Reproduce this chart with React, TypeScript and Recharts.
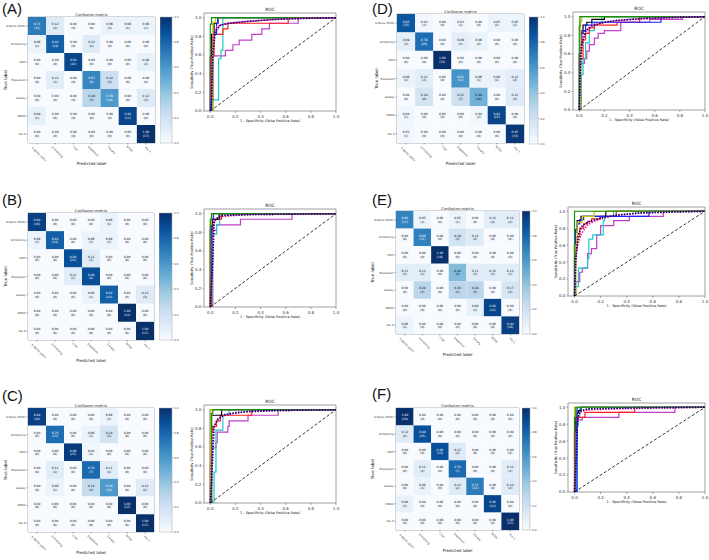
import React from 'react';
import { ScatterChart, Scatter, XAxis, YAxis, LineChart, Line, BarChart, Bar, ReferenceArea } from 'recharts';

const FONT = 'DejaVu Sans, sans-serif';

// ---------- categories / ticks ----------
const classLabels = ['A-Spine (EVD)', 'Armstrong', 'CDH', 'Expedium', 'Galaxy', 'NOVA', 'Xia 3'];
const cellTicks = [0, 1, 2, 3, 4, 5, 6];
const rocTicks = [0, 0.2, 0.4, 0.6, 0.8, 1.0];
const cbTicks = [0, 0.2, 0.4, 0.6, 0.8, 1.0];

// ---------- confusion matrices (normalized values / counts) ----------
const cmA_values = [
  [0.71, 0.12, 0.0, 0.0, 0.06, 0.06, 0.06],
  [0.06, 0.82, 0.0, 0.12, 0.0, 0.0, 0.0],
  [0.0, 0.0, 0.92, 0.0, 0.0, 0.0, 0.08],
  [0.0, 0.11, 0.0, 0.67, 0.22, 0.0, 0.0],
  [0.0, 0.0, 0.0, 0.29, 0.59, 0.0, 0.12],
  [0.08, 0.0, 0.0, 0.0, 0.0, 0.92, 0.0],
  [0.0, 0.0, 0.0, 0.0, 0.0, 0.0, 1.0],
];
const cmA_counts = [
  [12, 2, 0, 0, 1, 1, 1],
  [1, 14, 0, 2, 0, 0, 0],
  [0, 0, 22, 0, 0, 0, 2],
  [0, 1, 0, 6, 2, 0, 0],
  [0, 0, 0, 5, 10, 0, 2],
  [1, 0, 0, 0, 0, 11, 0],
  [0, 0, 0, 0, 0, 0, 17],
];
const cmB_values = [
  [0.94, 0.0, 0.0, 0.0, 0.06, 0.0, 0.0],
  [0.06, 0.82, 0.0, 0.06, 0.06, 0.0, 0.0],
  [0.0, 0.0, 0.88, 0.12, 0.0, 0.0, 0.0],
  [0.0, 0.0, 0.11, 0.89, 0.0, 0.0, 0.0],
  [0.0, 0.0, 0.0, 0.06, 0.82, 0.0, 0.12],
  [0.0, 0.0, 0.0, 0.0, 0.0, 1.0, 0.0],
  [0.0, 0.0, 0.0, 0.0, 0.0, 0.0, 1.0],
];
const cmB_counts = [
  [16, 0, 0, 0, 1, 0, 0],
  [1, 14, 0, 1, 1, 0, 0],
  [0, 0, 21, 3, 0, 0, 0],
  [0, 0, 1, 8, 0, 0, 0],
  [0, 0, 0, 1, 14, 0, 2],
  [0, 0, 0, 0, 0, 12, 0],
  [0, 0, 0, 0, 0, 0, 17],
];
const cmC_values = [
  [0.94, 0.0, 0.0, 0.0, 0.06, 0.0, 0.0],
  [0.0, 0.76, 0.0, 0.06, 0.18, 0.0, 0.0],
  [0.0, 0.0, 0.96, 0.04, 0.0, 0.0, 0.0],
  [0.0, 0.11, 0.0, 0.78, 0.11, 0.0, 0.0],
  [0.0, 0.06, 0.0, 0.24, 0.59, 0.0, 0.12],
  [0.0, 0.0, 0.0, 0.0, 0.0, 1.0, 0.0],
  [0.0, 0.0, 0.0, 0.0, 0.0, 0.0, 1.0],
];
const cmC_counts = [
  [16, 0, 0, 0, 1, 0, 0],
  [0, 13, 0, 1, 3, 0, 0],
  [0, 0, 23, 1, 0, 0, 0],
  [0, 1, 0, 7, 1, 0, 0],
  [0, 1, 0, 4, 10, 0, 2],
  [0, 0, 0, 0, 0, 12, 0],
  [0, 0, 0, 0, 0, 0, 17],
];
const cmD_values = [
  [0.85, 0.03, 0.0, 0.03, 0.0, 0.05, 0.05],
  [0.09, 0.76, 0.0, 0.09, 0.06, 0.0, 0.0],
  [0.0, 0.0, 1.0, 0.0, 0.0, 0.0, 0.0],
  [0.06, 0.11, 0.0, 0.61, 0.06, 0.06, 0.11],
  [0.0, 0.18, 0.0, 0.21, 0.48, 0.0, 0.12],
  [0.04, 0.0, 0.0, 0.0, 0.04, 0.92, 0.0],
  [0.03, 0.0, 0.0, 0.0, 0.0, 0.0, 0.97],
];
const cmD_counts = [
  [33, 1, 0, 1, 0, 2, 2],
  [3, 26, 0, 3, 2, 0, 0],
  [0, 0, 33, 0, 0, 0, 0],
  [1, 2, 0, 11, 1, 1, 2],
  [0, 6, 0, 7, 16, 0, 4],
  [1, 0, 0, 0, 1, 22, 0],
  [1, 0, 0, 0, 0, 0, 33],
];
const cmE_values = [
  [0.68, 0.05, 0.0, 0.05, 0.0, 0.11, 0.11],
  [0.0, 0.69, 0.0, 0.19, 0.12, 0.0, 0.0],
  [0.0, 0.0, 1.0, 0.0, 0.0, 0.0, 0.0],
  [0.11, 0.11, 0.0, 0.44, 0.11, 0.11, 0.11],
  [0.0, 0.28, 0.0, 0.28, 0.28, 0.0, 0.17],
  [0.0, 0.0, 0.0, 0.0, 0.08, 0.92, 0.0],
  [0.06, 0.0, 0.0, 0.0, 0.0, 0.0, 0.94],
];
const cmE_counts = [
  [13, 1, 0, 1, 0, 2, 2],
  [0, 11, 0, 3, 2, 0, 0],
  [0, 0, 16, 0, 0, 0, 0],
  [1, 1, 0, 4, 1, 1, 1],
  [0, 5, 0, 5, 5, 0, 3],
  [0, 0, 0, 0, 1, 11, 0],
  [1, 0, 0, 0, 0, 0, 16],
];
const cmF_values = [
  [1.0, 0.0, 0.0, 0.0, 0.0, 0.0, 0.0],
  [0.12, 0.88, 0.0, 0.0, 0.0, 0.0, 0.0],
  [0.0, 0.0, 0.88, 0.12, 0.0, 0.0, 0.0],
  [0.0, 0.11, 0.0, 0.78, 0.0, 0.0, 0.11],
  [0.0, 0.06, 0.0, 0.12, 0.71, 0.0, 0.12],
  [0.08, 0.0, 0.0, 0.0, 0.0, 0.92, 0.0],
  [0.0, 0.0, 0.0, 0.0, 0.0, 0.0, 1.0],
];
const cmF_counts = [
  [19, 0, 0, 0, 0, 0, 0],
  [2, 15, 0, 0, 0, 0, 0],
  [0, 0, 14, 2, 0, 0, 0],
  [0, 1, 0, 7, 0, 0, 1],
  [0, 1, 0, 2, 12, 0, 2],
  [1, 0, 0, 0, 0, 11, 0],
  [0, 0, 0, 0, 0, 0, 17],
];

// ---------- ROC curves: [fpr, tpr] corner points ----------
const rocDiagonal = [[0, 0], [1, 1]];

const rocA_y = [[0, 0], [0.02, 0], [0.04, 0.95], [1, 1]];
const rocA_g = [[0, 0], [0.01, 0.93], [0.02, 1], [1, 1]];
const rocA_b = [[0, 0], [0.01, 0], [0.02, 0.12], [0.05, 0.82], [0.06, 0.94], [1, 1]];
const rocA_r = [[0, 0], [0.01, 0], [0.03, 0.59], [0.1, 0.82], [0.14, 0.88], [0.62, 0.94], [1, 1]];
const rocA_c = [[0, 0], [0.02, 0], [0.066, 0.12], [0.085, 0.56], [0.1, 0.65], [1, 1]];
const rocA_m = [[0, 0], [0.02, 0], [0.12, 0.59], [0.18, 0.65], [0.23, 0.71], [0.33, 0.76], [0.41, 0.82], [0.47, 0.88], [0.7, 0.94], [1, 1]];
const rocA_k = [[0, 0], [0.01, 0.58], [0.03, 0.82], [0.06, 0.94], [1, 1]];
const rocA_micro = [[0, 0], [0.005, 0.3], [0.01, 0.59], [0.02, 0.8], [0.05, 0.9], [0.1, 0.93], [0.2, 0.95], [0.4, 0.97], [0.6, 0.99], [1, 1]];
const rocA_macro = [[0, 0], [0.01, 0.1], [0.02, 0.6], [0.04, 0.85], [0.08, 0.92], [0.15, 0.94], [0.3, 0.96], [0.5, 0.98], [0.7, 0.99], [1, 1]];

const rocB_y = [[0, 0], [0.008, 0.88], [1, 1]];
const rocB_g = [[0, 0], [0.01, 0.94], [0.03, 1], [1, 1]];
const rocB_b = [[0, 0], [0.01, 0.3], [0.025, 0.94], [1, 1]];
const rocB_r = [[0, 0], [0.01, 0], [0.02, 0.82], [0.09, 0.94], [1, 1]];
const rocB_c = [[0, 0], [0.015, 0], [0.05, 0.78], [0.075, 0.88], [1, 1]];
const rocB_m = [[0, 0], [0.02, 0], [0.05, 0.82], [0.24, 0.88], [0.65, 0.94], [1, 1]];
const rocB_k = [[0, 0], [0.015, 0.83], [0.07, 0.94], [1, 1]];
const rocB_micro = [[0, 0], [0.01, 0.6], [0.02, 0.85], [0.04, 0.93], [0.08, 0.97], [0.3, 0.99], [1, 1]];
const rocB_macro = [[0, 0], [0.02, 0.5], [0.03, 0.92], [0.06, 0.96], [0.1, 0.98], [0.3, 0.99], [1, 1]];

const rocC_y = [[0, 0], [0.005, 1], [1, 1]];
const rocC_g = [[0, 0], [0.01, 0], [0.02, 0.96], [0.03, 1], [1, 1]];
const rocC_b = [[0, 0], [0.01, 1], [1, 1]];
const rocC_r = [[0, 0], [0.01, 0.4], [0.02, 0.76], [0.05, 0.82], [0.08, 0.88], [0.33, 0.94], [1, 1]];
const rocC_c = [[0, 0], [0.03, 0], [0.045, 0.33], [0.1, 0.78], [0.15, 0.94], [1, 1]];
const rocC_m = [[0, 0], [0.01, 0], [0.045, 0.59], [0.055, 0.65], [0.14, 0.76], [0.15, 0.82], [0.3, 0.88], [0.54, 0.94], [1, 1]];
const rocC_k = [[0, 0], [0.01, 0], [0.09, 0.94], [1, 1]];
const rocC_micro = [[0, 0], [0.01, 0.5], [0.02, 0.78], [0.05, 0.88], [0.1, 0.93], [0.2, 0.97], [0.5, 0.99], [1, 1]];
const rocC_macro = [[0, 0], [0.01, 0.2], [0.03, 0.82], [0.06, 0.9], [0.12, 0.95], [0.3, 0.98], [0.5, 0.99], [1, 1]];

const rocD_y = [[0, 0], [0.01, 0], [0.02, 0.95], [1, 1]];
const rocD_g = [[0, 0], [0.005, 0.9], [0.02, 1], [1, 1]];
const rocD_b = [[0, 0], [0.01, 0], [0.02, 0.7], [0.05, 0.85], [0.1, 0.91], [0.65, 0.94], [1, 1]];
const rocD_r = [[0, 0], [0.01, 0], [0.03, 0.55], [0.05, 0.75], [0.08, 0.82], [0.12, 0.88], [0.3, 0.91], [0.48, 0.94], [1, 1]];
const rocD_c = [[0, 0], [0.015, 0], [0.03, 0.38], [0.05, 0.55], [0.08, 0.72], [0.12, 0.85], [0.18, 0.94], [1, 1]];
const rocD_m = [[0, 0], [0.01, 0], [0.04, 0.5], [0.06, 0.55], [0.08, 0.63], [0.12, 0.7], [0.15, 0.77], [0.2, 0.82], [0.33, 0.85], [0.56, 0.94], [0.82, 0.97], [1, 1]];
const rocD_k = [[0, 0], [0.01, 0.6], [0.03, 0.82], [0.06, 0.91], [0.1, 0.94], [0.2, 0.97], [1, 1]];
const rocD_micro = [[0, 0], [0.005, 0.4], [0.01, 0.62], [0.02, 0.75], [0.05, 0.85], [0.1, 0.91], [0.2, 0.94], [0.4, 0.97], [0.7, 0.99], [1, 1]];
const rocD_macro = [[0, 0], [0.01, 0.5], [0.02, 0.7], [0.05, 0.84], [0.1, 0.9], [0.2, 0.94], [0.3, 0.96], [0.5, 0.98], [1, 1]];

const rocE_y = [[0, 0], [0.01, 0], [0.02, 0.6], [0.06, 0.87], [0.15, 0.94], [1, 1]];
const rocE_g = [[0, 0], [0.004, 1], [1, 1]];
const rocE_b = [[0, 0], [0.005, 0.45], [0.02, 0.75], [0.04, 0.85], [0.07, 0.9], [0.57, 0.94], [1, 1]];
const rocE_r = [[0, 0], [0.01, 0.44], [0.02, 0.56], [0.04, 0.7], [0.07, 0.8], [0.1, 0.85], [0.13, 0.88], [0.2, 0.91], [0.32, 0.94], [1, 1]];
const rocE_c = [[0, 0], [0.005, 0], [0.03, 0.11], [0.1, 0.33], [0.11, 0.44], [0.14, 0.67], [0.22, 0.72], [0.23, 0.89], [0.3, 0.94], [1, 1]];
const rocE_m = [[0, 0], [0.01, 0], [0.04, 0.17], [0.06, 0.28], [0.1, 0.33], [0.13, 0.5], [0.17, 0.56], [0.2, 0.72], [0.3, 0.83], [0.42, 0.89], [0.68, 0.94], [1, 1]];
const rocE_k = [[0, 0], [0.005, 0.6], [0.02, 0.78], [0.05, 0.89], [0.24, 0.94], [1, 1]];
const rocE_micro = [[0, 0], [0.005, 0.25], [0.01, 0.45], [0.02, 0.58], [0.05, 0.73], [0.1, 0.84], [0.15, 0.88], [0.2, 0.91], [0.3, 0.95], [0.5, 0.98], [1, 1]];
const rocE_macro = [[0, 0], [0.005, 0.2], [0.01, 0.45], [0.03, 0.73], [0.06, 0.83], [0.1, 0.87], [0.2, 0.92], [0.3, 0.95], [0.5, 0.98], [1, 1]];

const rocF_y = [[0, 0], [0.005, 1], [1, 1]];
const rocF_g = [[0, 0], [0.01, 0.88], [0.02, 1], [1, 1]];
const rocF_b = [[0, 0], [0.02, 0], [1, 1]];
const rocF_r = [[0, 0], [0.005, 0], [0.02, 0.82], [0.08, 0.88], [0.46, 0.94], [1, 1]];
const rocF_c = [[0, 0], [0.015, 0], [0.02, 0.44], [0.03, 0.78], [0.04, 0.88], [1, 1]];
const rocF_m = [[0, 0], [0.01, 0], [0.03, 0.82], [0.06, 0.85], [0.34, 0.88], [0.77, 0.94], [1, 1]];
const rocF_k = [[0, 0], [0.01, 0.7], [0.02, 0.88], [0.03, 0.94], [0.05, 0.96], [1, 1]];
const rocF_micro = [[0, 0], [0.005, 0.3], [0.01, 0.7], [0.02, 0.88], [0.04, 0.94], [0.1, 0.97], [0.3, 0.98], [0.6, 0.99], [1, 1]];
const rocF_macro = [[0, 0], [0.01, 0.3], [0.02, 0.8], [0.03, 0.9], [0.05, 0.96], [0.1, 0.98], [0.4, 0.99], [1, 1]];

// ---------- styling ----------
const BLUES = ['#f7fbff', '#deebf7', '#c6dbef', '#9ecae1', '#6baed6', '#4292c6', '#2171b5', '#08519c', '#08306b'];
const CURVE_COLORS: Record<string, string> = {
  m: '#c040c8', c: '#20c8c8', r: '#ff2020', k: '#000000', b: '#2020ff', y: '#c8c800', g: '#109010',
};
const CLASS_KEYS = ['m', 'c', 'r', 'k', 'b', 'y', 'g'];

function hexToRgb(h: string) {
  const n = parseInt(h.slice(1), 16);
  return [(n >> 16) & 255, (n >> 8) & 255, n & 255];
}
function blues(t: number) {
  const s = Math.max(0, Math.min(1, t)) * 8;
  const i = Math.min(7, Math.floor(s));
  const f = s - i;
  const a = hexToRgb(BLUES[i]);
  const b = hexToRgb(BLUES[i + 1]);
  const c = a.map((v, k) => Math.round(v + (b[k] - v) * f));
  return `rgb(${c[0]},${c[1]},${c[2]})`;
}
const toXY = (arr: number[][]) => arr.map(([x, y]) => ({ x, y }));

// ---------- panels (layout) ----------
const panels = [
  { id: 'A', letter: [2, 14], cm: [28, 17, 127, 126], cb: [160, 17, 12, 126], roc: [204, 13, 132, 98], tl: 23,
    values: cmA_values, counts: cmA_counts,
    curves: { y: rocA_y, g: rocA_g, b: rocA_b, r: rocA_r, c: rocA_c, m: rocA_m, k: rocA_k, micro: rocA_micro, macro: rocA_macro } },
  { id: 'B', letter: [2, 205], cm: [28, 213, 126, 127], cb: [159, 213, 13, 127], roc: [204, 209, 132, 98], tl: 23,
    values: cmB_values, counts: cmB_counts,
    curves: { y: rocB_y, g: rocB_g, b: rocB_b, r: rocB_r, c: rocB_c, m: rocB_m, k: rocB_k, micro: rocB_micro, macro: rocB_macro } },
  { id: 'C', letter: [2, 401], cm: [28, 408, 126, 124], cb: [159, 408, 13, 124], roc: [204, 405, 132, 98], tl: 23,
    values: cmC_values, counts: cmC_counts,
    curves: { y: rocC_y, g: rocC_g, b: rocC_b, r: rocC_r, c: rocC_c, m: rocC_m, k: rocC_k, micro: rocC_micro, macro: rocC_macro } },
  { id: 'D', letter: [372, 14], cm: [397, 14, 127, 129], cb: [529, 17, 9, 127], roc: [573, 12, 132, 98], tl: 21,
    values: cmD_values, counts: cmD_counts,
    curves: { y: rocD_y, g: rocD_g, b: rocD_b, r: rocD_r, c: rocD_c, m: rocD_m, k: rocD_k, micro: rocD_micro, macro: rocD_macro } },
  { id: 'E', letter: [372, 205], cm: [396, 211, 123, 123], cb: [522, 211, 8, 123], roc: [568, 207, 137, 89], tl: 24,
    values: cmE_values, counts: cmE_counts,
    curves: { y: rocE_y, g: rocE_g, b: rocE_b, r: rocE_r, c: rocE_c, m: rocE_m, k: rocE_k, micro: rocE_micro, macro: rocE_macro } },
  { id: 'F', letter: [372, 399], cm: [396, 408, 123, 122], cb: [522, 408, 8, 122], roc: [568, 403, 137, 89], tl: 24,
    values: cmF_values, counts: cmF_counts,
    curves: { y: rocF_y, g: rocF_g, b: rocF_b, r: rocF_r, c: rocF_c, m: rocF_m, k: rocF_k, micro: rocF_micro, macro: rocF_macro } },
];

// ---------- components ----------
const TICK_FS = 2.8;

function XRotTick(props: any) {
  const { x, y, payload } = props;
  const label = classLabels[payload.value];
  const L = label.length * TICK_FS * 0.6;
  const cx = x + 2;
  const cy = y + 1 + L * 0.3536;
  return (
    <text x={cx} y={cy} transform={`rotate(45 ${cx} ${cy})`} textAnchor="middle" dominantBaseline="central"
      fontSize={TICK_FS} fontFamily={FONT} fill="#333">{label}</text>
  );
}
function YLabelTick(props: any) {
  const { x, y, payload } = props;
  return (
    <text x={x} y={y} textAnchor="end" dominantBaseline="central" fontSize={TICK_FS} fontFamily={FONT} fill="#333">
      {classLabels[payload.value]}
    </text>
  );
}

function CMChart({ box, values, counts }: any) {
  const [bx, by, bw, bh] = box;
  const YW = 26, XH = 26, T = 1, R = 1;
  const W = YW + bw + R, H = T + bh + XH;
  const data: any[] = [];
  values.forEach((row: number[], r: number) => row.forEach((v: number, c: number) => data.push({ r, c, v, n: counts[r][c] })));
  const cw = bw / 7, ch = bh / 7;
  const shape = (p: any) => {
    const { cx, cy, payload } = p;
    const col = payload.v > 0.5 ? '#fff' : '#000';
    return (
      <g>
        <rect x={cx - cw / 2} y={cy - ch / 2} width={cw} height={ch} fill={blues(payload.v)} />
        <text x={cx} y={cy - 1.7} textAnchor="middle" dominantBaseline="central" fontSize={3} fontFamily={FONT} fill={col}>
          {payload.v.toFixed(2)}
        </text>
        <text x={cx} y={cy + 1.9} textAnchor="middle" dominantBaseline="central" fontSize={3} fontFamily={FONT} fill={col}>
          {`(${payload.n})`}
        </text>
      </g>
    );
  };
  return (
    <div style={{ position: 'absolute', left: bx - YW, top: by - T, width: W, height: H }}>
      <ScatterChart width={W} height={H} margin={{ top: T, right: R, bottom: 0, left: 0 }}>
        <XAxis type="number" dataKey="c" domain={[-0.5, 6.5]} ticks={cellTicks} interval={0} height={XH}
          tick={XRotTick} tickSize={1.5} tickMargin={1} axisLine={false} tickLine={{ stroke: '#555', strokeWidth: 0.5 }} />
        <YAxis type="number" dataKey="r" domain={[-0.5, 6.5]} reversed ticks={cellTicks} interval={0} width={YW}
          tick={YLabelTick} tickSize={1.5} tickMargin={1} axisLine={false} tickLine={{ stroke: '#555', strokeWidth: 0.5 }} />
        <Scatter data={data} shape={shape} isAnimationActive={false} />
        <ReferenceArea x1={-0.5} x2={6.5} y1={-0.5} y2={6.5} fill="none" fillOpacity={0} stroke="#999" strokeWidth={0.8} />
      </ScatterChart>
    </div>
  );
}

function ColorBar({ id, box }: any) {
  const [bx, by, bw, bh] = box;
  const RW = 12;
  const W = bw + RW, H = bh + 4;
  return (
    <div style={{ position: 'absolute', left: bx, top: by - 2, width: W, height: H }}>
      <BarChart width={W} height={H} data={[{ name: 'cb', v: 1 }]} margin={{ top: 2, right: 0, bottom: 2, left: 0 }}
        barCategoryGap={0}>
        <defs>
          <linearGradient id={`cbgrad${id}`} x1="0" y1="0" x2="0" y2="1">
            {BLUES.map((_, i) => (
              <stop key={i} offset={`${(i / 8) * 100}%`} stopColor={BLUES[8 - i]} />
            ))}
          </linearGradient>
        </defs>
        <XAxis dataKey="name" hide />
        <YAxis orientation="right" type="number" domain={[0, 1]} ticks={cbTicks} interval={0} width={RW}
          tickFormatter={(v: number) => v.toFixed(1)} tick={{ fontSize: 2.8, fill: '#333', fontFamily: FONT }}
          tickSize={1.2} tickMargin={1} axisLine={false} tickLine={{ stroke: '#555', strokeWidth: 0.4 }} />
        <Bar dataKey="v" fill={`url(#cbgrad${id})`} stroke="#aaa" strokeWidth={0.5} isAnimationActive={false} />
      </BarChart>
    </div>
  );
}

function RocChart({ box, curves }: any) {
  const [bx, by, bw, bh] = box;
  const YW = 12, XH = 12, T = 1, R = 6;
  const W = YW + bw + R, H = T + bh + XH;
  const tickStyle = { fontSize: 4, fill: '#333', fontFamily: FONT };
  return (
    <div style={{ position: 'absolute', left: bx - YW, top: by - T, width: W, height: H }}>
      <LineChart width={W} height={H} margin={{ top: T, right: R, bottom: 0, left: 0 }}>
        <XAxis type="number" dataKey="x" domain={[-0.05, 1]} allowDataOverflow ticks={rocTicks} interval={0}
          tickFormatter={(v: number) => v.toFixed(1)} tick={tickStyle} tickSize={2} tickMargin={2}
          axisLine={false} tickLine={{ stroke: '#555', strokeWidth: 0.5 }} height={XH} />
        <YAxis type="number" dataKey="y" domain={[0, 1.05]} allowDataOverflow ticks={rocTicks} interval={0}
          tickFormatter={(v: number) => v.toFixed(1)} tick={tickStyle} tickSize={1.5} tickMargin={1.2}
          axisLine={false} tickLine={{ stroke: '#555', strokeWidth: 0.5 }} width={YW} />
        {CLASS_KEYS.map((k) => (
          <Line key={k} data={toXY(curves[k])} dataKey="y" type="stepBefore" stroke={CURVE_COLORS[k]}
            strokeWidth={1.2} dot={false} isAnimationActive={false} />
        ))}
        <Line data={toXY(curves.micro)} dataKey="y" type="linear" stroke="deeppink" strokeDasharray="1.5 1.3"
          strokeWidth={1.6} dot={false} isAnimationActive={false} />
        <Line data={toXY(curves.macro)} dataKey="y" type="linear" stroke="navy" strokeDasharray="1.5 1.3"
          strokeWidth={1.6} dot={false} isAnimationActive={false} />
        <Line data={toXY(rocDiagonal)} dataKey="y" type="linear" stroke="#000" strokeDasharray="3 2"
          strokeWidth={0.8} dot={false} isAnimationActive={false} />
        <ReferenceArea x1={-0.05} x2={1} y1={0} y2={1.05} fill="none" fillOpacity={0} stroke="#888" strokeWidth={0.8} />
      </LineChart>
    </div>
  );
}

function PanelText({ p }: any) {
  const [bx, by, bw, bh] = p.cm;
  const [rx, ry, rw, rh] = p.roc;
  const tcx = bx - p.tl, tcy = by + bh / 2;
  const rlx = rx - 12.5, rly = ry + rh / 2;
  return (
    <g>
      <text x={p.letter[0]} y={p.letter[1]} fontSize={15} fontFamily="Liberation Sans, Arial, sans-serif" fill="#111">
        {`(${p.id})`}
      </text>
      <text x={bx + bw / 2} y={by - 2.6} textAnchor="middle" dominantBaseline="central" fontSize={3.8} fontFamily={FONT} fill="#222">
        Confusion matrix
      </text>
      <text x={bx + bw / 2} y={by + bh + 20} textAnchor="middle" dominantBaseline="central" fontSize={4} fontFamily={FONT} fill="#222">
        Predicted label
      </text>
      <text x={tcx} y={tcy} transform={`rotate(-90 ${tcx} ${tcy})`} textAnchor="middle" dominantBaseline="central"
        fontSize={4.2} fontFamily={FONT} fill="#222">True label</text>
      <text x={rx + rw / 2} y={ry - 3.5} textAnchor="middle" dominantBaseline="central" fontSize={4.4} fontFamily={FONT} fill="#222">
        ROC
      </text>
      <text x={rx + rw / 2} y={ry + rh + 9.8} textAnchor="middle" dominantBaseline="central" fontSize={3.5} fontFamily={FONT} fill="#222">
        1 - Specificity (False Positive Rate)
      </text>
      <text x={rlx} y={rly} transform={`rotate(-90 ${rlx} ${rly})`} textAnchor="middle" dominantBaseline="central"
        fontSize={3.5} fontFamily={FONT} fill="#222">Sensitivity (True Positive Rate)</text>
    </g>
  );
}

export default function App() {
  return (
    <div style={{ position: 'absolute', left: 0, top: 0, width: 709, height: 560, background: '#fff', overflow: 'hidden' }}>
      {panels.map((p) => (
        <React.Fragment key={p.id}>
          <CMChart box={p.cm} values={p.values} counts={p.counts} />
          <ColorBar id={p.id} box={p.cb} />
          <RocChart box={p.roc} curves={p.curves} />
        </React.Fragment>
      ))}
      <svg width={709} height={560} style={{ position: 'absolute', left: 0, top: 0, pointerEvents: 'none' }}>
        {panels.map((p) => (
          <PanelText key={p.id} p={p} />
        ))}
      </svg>
    </div>
  );
}
